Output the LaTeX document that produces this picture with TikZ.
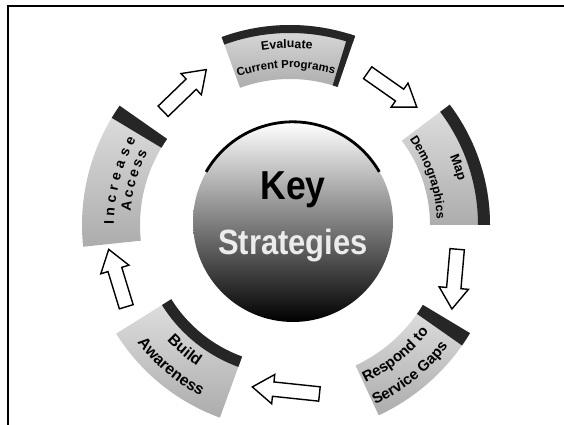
\documentclass[tikz,border=0pt]{standalone}
\usepackage{fontspec}
\setmainfont{Liberation Sans}
\newfontfamily\hubfont[FakeStretch=0.88]{Liberation Sans}
\usetikzlibrary{shapes.arrows,decorations.text}

\begin{document}
\begin{tikzpicture}[x=0.02cm,y=0.02cm,
    seg/.style={top color=gray!25,bottom color=gray!65},
    band/.style={fill=black!85},
    flow/.style={draw,fill=white,line width=0.8pt,shape=single arrow,single arrow head extend=0.15cm,
      single arrow tip angle=70,inner sep=0.13cm,minimum height=1.2cm},
    curved/.style={decorate,decoration={text along path,text align=center,text={#1}}},
    spread/.style={decorate,decoration={text along path,text align={fit to path},text={#1}}}]
  \useasboundingbox (0,0) rectangle (564,425);
  \draw[line width=1.3pt] (564,419) -- (8,419) -- (8,0);

  % ring of strategy blocks
  \begin{scope}[shift={(290,200)}]
    \path[seg] (71:146) arc[start angle=71,end angle=110,radius=146] -- (110:200) arc[start angle=110,end angle=71,radius=200] -- cycle;
    \fill[band] (71:192) arc[start angle=71,end angle=110,radius=192] -- (110:200) arc[start angle=110,end angle=71,radius=200] -- cycle;
    \fill[band] (71:146) arc[start angle=71,end angle=73,radius=146] -- (73:200) -- (71:200) -- cycle;
    \path[curved={|\bfseries\fontsize{7}{8}\selectfont|Evaluate}] (111:177) arc[start angle=111,end angle=71,radius=177];
    \path[curved={|\bfseries\fontsize{6.5}{8}\selectfont|Current Programs}] (111:157) arc[start angle=111,end angle=72,radius=157];

    \path[seg] (0:140) arc[start angle=0,end angle=37,radius=140] -- (37:200) arc[start angle=37,end angle=0,radius=200] -- cycle;
    \fill[band] (0:188) arc[start angle=0,end angle=37,radius=188] -- (37:200) arc[start angle=37,end angle=0,radius=200] -- cycle;
    \path[curved={|\bfseries\fontsize{7.5}{9}\selectfont|Map}] (38:174) arc[start angle=38,end angle=0,radius=174];
    \path[curved={|\bfseries\fontsize{7}{9}\selectfont|Demographics}] (38:147) arc[start angle=38,end angle=0,radius=147];

    \path[seg] (-65:155) arc[start angle=-65,end angle=-31,radius=155] -- (-31:210) arc[start angle=-31,end angle=-65,radius=210] -- cycle;
    \fill[band] (-35:155) arc[start angle=-35,end angle=-31,radius=155] -- (-31:210) arc[start angle=-31,end angle=-35,radius=210] -- cycle;
    \path[curved={|\bfseries\fontsize{8.5}{10}\selectfont|Respond to}] (-67:175) arc[start angle=-67,end angle=-35,radius=175];
    \path[curved={|\bfseries\fontsize{8.5}{10}\selectfont|Service Gaps}] (-67:199) arc[start angle=-67,end angle=-35,radius=199];

    \path[seg] (212:140) arc[start angle=212,end angle=250,radius=140] -- (250:205) arc[start angle=250,end angle=212,radius=205] -- cycle;
    \fill[band] (212:140) arc[start angle=212,end angle=250,radius=140] -- (250:151) arc[start angle=250,end angle=212,radius=151] -- cycle;
    \path[curved={|\bfseries\fontsize{9}{10}\selectfont|Build}] (210:169) arc[start angle=210,end angle=250,radius=169];
    \path[curved={|\bfseries\fontsize{9}{10}\selectfont|Awareness}] (210:193) arc[start angle=210,end angle=250,radius=193];

    \path[seg] (186:150) arc[start angle=186,end angle=145,radius=150] -- (145:208) arc[start angle=145,end angle=186,radius=208] -- cycle;
    \fill[band] (149:150) arc[start angle=149,end angle=145,radius=150] -- (145:208) arc[start angle=145,end angle=149,radius=208] -- cycle;
    \path[spread={|\bfseries\fontsize{8}{9}\selectfont|Increase}] (180:176) arc[start angle=180,end angle=151,radius=176];
    \path[spread={|\bfseries\fontsize{8}{9}\selectfont|Access}] (175:160) arc[start angle=175,end angle=153,radius=160];
  \end{scope}

  % arrows between the blocks
  \node[flow,rotate=44] (ar1) at (181,331) {};
  \node[flow,rotate=-35] (ar2) at (388,338) {};
  \node[flow,rotate=-95] (ar3) at (455,151) {};
  \node[flow,rotate=174,minimum height=1.35cm] (ar4) at (291,34) {};
  \node[flow,rotate=107] (ar5) at (119,142) {};

  % centre sphere
  \node[circle,minimum size=4cm,inner sep=0,top color=white,middle color=gray!55,bottom color=black] (hub) at (293,203) {};
  \draw[line width=1.6pt] (hub.150) arc[start angle=150,end angle=30,radius=100];
  \node[anchor=base,font=\hubfont\bfseries\fontsize{23}{24}\selectfont] (key) at (293,225) {Key};
  \node[anchor=base,text=gray!15,font=\hubfont\bfseries\fontsize{20}{22}\selectfont] (strat) at (293,170) {Strategies};
\end{tikzpicture}
\end{document}
